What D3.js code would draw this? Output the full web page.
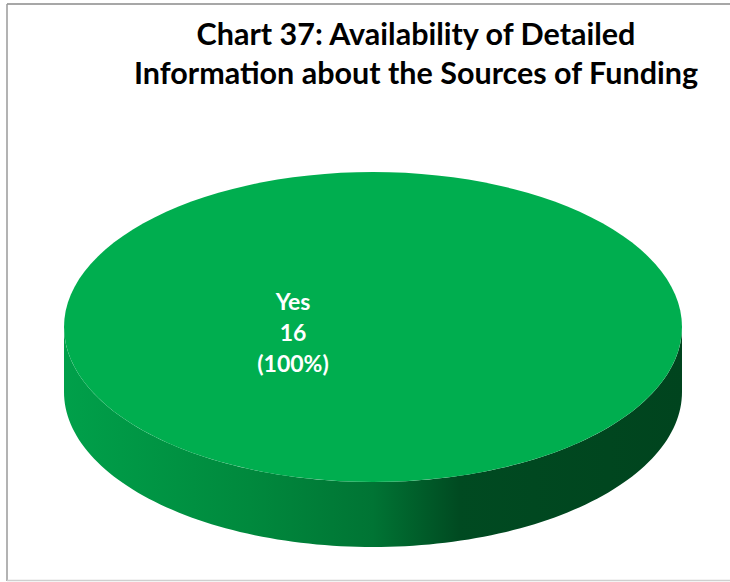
<!DOCTYPE html>
<html>
<head>
<meta charset="utf-8">
<script src="https://cdn.jsdelivr.net/npm/d3@7"></script>
<style>
  body { margin: 0; background: #fff; }
  svg { display: block; }
</style>
</head>
<body>
<div id="chart"></div>
<script>
// data
var categories = ['Yes'];
var values     = [16];
var titleLines = ['Chart 37: Availability of Detailed', 'Information about the Sources of Funding'];
var colors     = ['#00ae4f'];

var width  = 730;
var height = 582;

// ellipse geometry of the 3d pie
var cx = 373, cy = 327, rx = 309, ry = 155, depth = 65;

var svg = d3.select('#chart').append('svg')
  .attr('width', width)
  .attr('height', height);

// chart frame (right side runs off the picture)
svg.append('line').attr('x1', 7).attr('y1', 4).attr('x2', width).attr('y2', 4)
  .attr('stroke', '#8a8a8a').attr('stroke-width', 1.5);
svg.append('line').attr('x1', 7).attr('y1', 4).attr('x2', 7).attr('y2', 581)
  .attr('stroke', '#9a9a9a').attr('stroke-width', 1.5);
svg.append('line').attr('x1', 7).attr('y1', 580.5).attr('x2', width).attr('y2', 580.5)
  .attr('stroke', '#cfcfcf').attr('stroke-width', 1.5);

// title
var title = svg.append('text')
  .attr('x', 416)
  .attr('text-anchor', 'middle')
  .style('font-family', 'Lato, "Open Sans", sans-serif')
  .style('font-weight', 'bold')
  .style('font-size', '30.5px')
  .attr('fill', '#000');
title.selectAll('tspan').data(titleLines).enter().append('tspan')
  .attr('x', 416)
  .attr('y', function(d, i) { return 45 + i * 39; })
  .text(function(d) { return d; });

// side gradient (shading from left to right)
var defs = svg.append('defs');
var grad = defs.append('linearGradient')
  .attr('id', 'sideGrad')
  .attr('gradientUnits', 'userSpaceOnUse')
  .attr('x1', cx - rx).attr('y1', 0)
  .attr('x2', cx + rx).attr('y2', 0);
grad.append('stop').attr('offset', 0).attr('stop-color', '#00a04a');
grad.append('stop').attr('offset', 0.3).attr('stop-color', '#00893d');
grad.append('stop').attr('offset', 0.5).attr('stop-color', '#007434');
grad.append('stop').attr('offset', 0.64).attr('stop-color', '#004a21');
grad.append('stop').attr('offset', 1).attr('stop-color', '#00441e');

var pie = d3.pie().sort(null).startAngle(0).endAngle(2 * Math.PI);
var arcs = pie(values);

// angle -> point on ellipse (angle 0 at right, clockwise on screen)
function pt(a, dy) {
  return [cx + rx * Math.cos(a), cy + ry * Math.sin(a) + (dy || 0)];
}

function topPath(d) {
  var n = 120, p = d3.path();
  var full = (d.endAngle - d.startAngle) >= 2 * Math.PI - 1e-6;
  if (!full) p.moveTo(cx, cy);
  for (var i = 0; i <= n; i++) {
    var a = d.startAngle + (d.endAngle - d.startAngle) * i / n;
    var q = pt(a);
    if (i === 0 && full) p.moveTo(q[0], q[1]); else p.lineTo(q[0], q[1]);
  }
  p.closePath();
  return p.toString();
}

// outer wall: only the front half (0..PI) is visible
function sidePath(d) {
  var a0 = Math.max(d.startAngle, 0), a1 = Math.min(d.endAngle, Math.PI);
  if (a1 <= a0) return '';
  var n = 120, p = d3.path(), i, a, q;
  for (i = 0; i <= n; i++) {
    a = a0 + (a1 - a0) * i / n;
    q = pt(a);
    if (i === 0) p.moveTo(q[0], q[1]); else p.lineTo(q[0], q[1]);
  }
  for (i = n; i >= 0; i--) {
    a = a0 + (a1 - a0) * i / n;
    q = pt(a, depth);
    p.lineTo(q[0], q[1]);
  }
  p.closePath();
  return p.toString();
}

svg.selectAll('path.side').data(arcs).enter().append('path')
  .attr('class', 'side')
  .attr('d', sidePath)
  .attr('fill', 'url(#sideGrad)');

svg.selectAll('path.top').data(arcs).enter().append('path')
  .attr('class', 'top')
  .attr('d', topPath)
  .attr('fill', function(d, i) { return colors[i]; });

// data labels
var total = d3.sum(values);
var labels = svg.selectAll('text.lbl').data(arcs).enter().append('text')
  .attr('class', 'lbl')
  .attr('text-anchor', 'middle')
  .style('font-family', 'Lato, "Open Sans", sans-serif')
  .style('font-weight', 'bold')
  .style('font-size', '23px')
  .attr('fill', '#fff');
labels.each(function(d, i) {
  var lx = cx - 80, ly = cy - 17;
  var lines = [categories[i], String(d.data), '(' + Math.round(d.data / total * 100) + '%)'];
  d3.select(this).selectAll('tspan').data(lines).enter().append('tspan')
    .attr('x', lx)
    .attr('y', function(t, j) { return ly + j * 31; })
    .text(function(t) { return t; });
});
</script>
</body>
</html>
